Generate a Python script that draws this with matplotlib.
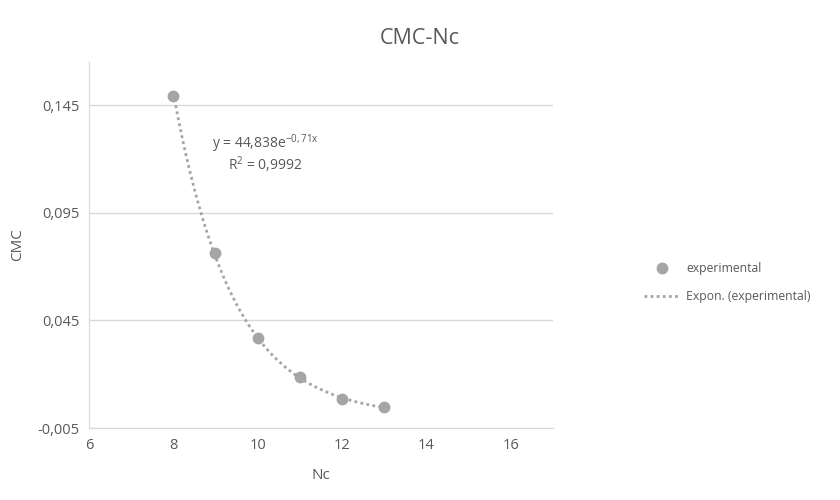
import numpy as np
import matplotlib
matplotlib.use('Agg')
import matplotlib.pyplot as plt
from matplotlib.ticker import FuncFormatter

plt.rcParams['font.family'] = ['Open Sans', 'DejaVu Sans']
plt.rcParams['mathtext.default'] = 'regular'

nc = [8, 9, 10, 11, 12, 13]
cmc = [0.149, 0.0765, 0.0367, 0.0186, 0.0084, 0.0047]
y_ticks = [-0.005, 0.045, 0.095, 0.145]
x_ticks = [6, 8, 10, 12, 14, 16]

gray = '#a5a5a5'
txt = '#595959'

# exponential trendline fitted from the data
b, ln_a = np.polyfit(nc, np.log(cmc), 1)
xs = np.linspace(min(nc), max(nc), 200)
ys = np.exp(ln_a) * np.exp(b * xs)

fig = plt.figure(figsize=(8.4, 5), dpi=100)
ax = fig.add_axes([0.106, 0.144, 0.552, 0.732])

ax.plot(nc, cmc, 'o', color=gray, ms=7.5, label='experimental', zorder=3)
ax.plot(xs, ys, linestyle=(0, (1, 1.2)), color=gray, lw=2, label='Expon. (experimental)', zorder=2)

ax.set_xlim(6, 17)
ax.set_ylim(-0.005, 0.165)
ax.set_xticks(x_ticks)
ax.set_yticks(y_ticks)
ax.yaxis.set_major_formatter(FuncFormatter(lambda v, p: f'{v:.3f}'.replace('.', ',')))
ax.grid(axis='y', color='#d9d9d9', lw=1)
ax.set_axisbelow(True)
for s in ['top', 'right']:
    ax.spines[s].set_visible(False)
for s in ['left', 'bottom']:
    ax.spines[s].set_color('#d9d9d9')
ax.tick_params(length=0, labelsize=10.5, colors=txt, pad=7)

ax.set_xlabel('Nc', fontsize=11, color=txt, labelpad=11)
ax.set_ylabel('CMC', fontsize=11, color=txt, labelpad=9)

fig.text(0.5, 0.924, 'CMC-Nc', ha='center', va='center', fontsize=15.5, color=txt)

ax.text(10.18, 0.1225, 'y = 44,838e$^{-0,71x}$\nR$^2$ = 0,9992', ha='center', va='center',
        fontsize=10, color=txt, linespacing=0.95, multialignment='center')

leg = fig.legend(loc='center left', bbox_to_anchor=(0.754, 0.435), frameon=False,
                 fontsize=8.8, handlelength=2.9, handletextpad=0.5, labelspacing=1.25)
for t in leg.get_texts():
    t.set_color(txt)

fig.savefig('out.png', dpi=100)
plt.close(fig)
